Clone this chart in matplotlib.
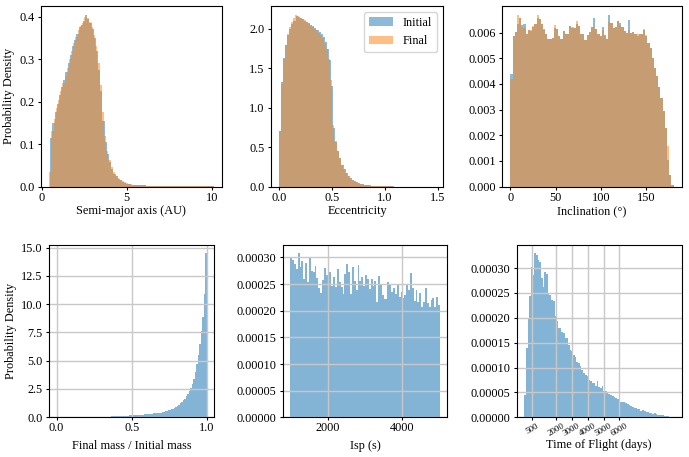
import numpy as np
import matplotlib
matplotlib.use('Agg')
import matplotlib.pyplot as plt

plt.rcParams['font.family'] = 'serif'
plt.rcParams['font.serif'] = ['Liberation Serif', 'DejaVu Serif']
plt.rcParams['font.size'] = 8.8
plt.rcParams['xtick.major.size'] = 2
plt.rcParams['ytick.major.size'] = 2
plt.rcParams['xtick.major.pad'] = 1.5
plt.rcParams['ytick.major.pad'] = 2.5

# Histogram heights (density per bin)
sma_range_initial = (0.5, 10.1)
sma_initial = [0.115, 0.15, 0.175, 0.195, 0.215, 0.235, 0.25, 0.27, 0.29, 0.31,
               0.33, 0.345, 0.36, 0.375, 0.38, 0.39, 0.405, 0.395, 0.385, 0.37,
               0.35, 0.32, 0.275, 0.225, 0.155, 0.105, 0.078, 0.058, 0.042, 0.031,
               0.024, 0.019, 0.015, 0.012, 0.009, 0.007, 0.006, 0.005, 0.005, 0.004,
               0.004, 0.003, 0.003, 0.003, 0.002, 0.002, 0.002, 0.001, 0.001, 0.001,
               0.001, 0.001, 0.001, 0.001, 0.001, 0.001, 0.001, 0.001, 0.001, 0.001,
               0.001, 0.001, 0.001, 0.001, 0.001, 0.001, 0.001, 0.001, 0.001, 0.001,
               0.001, 0.001, 0.001, 0.001, 0.001]
sma_range_final = (0.44, 10.1)
sma_final = [0.035, 0.13, 0.16, 0.185, 0.205, 0.225, 0.243, 0.26, 0.28, 0.30,
             0.32, 0.338, 0.352, 0.368, 0.378, 0.386, 0.40, 0.398, 0.388, 0.375,
             0.357, 0.33, 0.29, 0.24, 0.175, 0.12, 0.085, 0.063, 0.046, 0.034,
             0.026, 0.02, 0.016, 0.013, 0.01, 0.008, 0.007, 0.006, 0.005, 0.004,
             0.004, 0.003, 0.003, 0.003, 0.002, 0.002, 0.002, 0.001, 0.001, 0.001,
             0.001, 0.001, 0.001, 0.001, 0.001, 0.001, 0.001, 0.001, 0.001, 0.001,
             0.001, 0.001, 0.001, 0.001, 0.001, 0.001, 0.001, 0.001, 0.001, 0.001,
             0.001, 0.001, 0.001, 0.001, 0.001]

ecc_range_initial = (0.0, 1.48)
ecc_initial = [0.71, 1.32, 1.63, 1.80, 1.92, 2.00, 2.06, 2.10, 2.16, 2.15,
               2.14, 2.13, 2.10, 2.09, 2.07, 2.05, 2.03, 2.01, 1.98, 1.96,
               1.93, 1.89, 1.83, 1.75, 1.60, 1.27, 0.74, 0.57, 0.45, 0.36,
               0.28, 0.22, 0.17, 0.13, 0.11, 0.09, 0.07, 0.055, 0.047, 0.04,
               0.033, 0.027, 0.022, 0.018, 0.015, 0.012, 0.01, 0.008, 0.007, 0.006,
               0.005, 0.004, 0.004, 0.003, 0.003, 0.002, 0.002, 0.002, 0.002, 0.001,
               0.001, 0.001, 0.001, 0.001, 0.001, 0.001, 0.001, 0.001, 0.001, 0.001,
               0.001, 0.001, 0.001, 0.001, 0.001]
ecc_range_final = (0.0, 1.46)
ecc_final = [0.70, 1.30, 1.62, 1.79, 1.93, 2.02, 2.08, 2.14, 2.18, 2.16,
             2.14, 2.12, 2.11, 2.08, 2.06, 2.04, 2.02, 2.00, 1.98, 1.95,
             1.92, 1.88, 1.82, 1.74, 1.62, 1.35, 0.78, 0.58, 0.45, 0.36,
             0.28, 0.22, 0.17, 0.13, 0.11, 0.09, 0.07, 0.055, 0.047, 0.04,
             0.033, 0.027, 0.022, 0.018, 0.015, 0.012, 0.01, 0.008, 0.007, 0.006,
             0.005, 0.004, 0.004, 0.003, 0.003, 0.002, 0.002, 0.002, 0.002, 0.001,
             0.001, 0.001, 0.001, 0.001, 0.001, 0.001, 0.001, 0.001, 0.001, 0.001,
             0.001, 0.001, 0.001, 0.001, 0.001]

inc_range = (0.0, 180.0)
inc_initial = [4.37, 5.85, 6.04, 6.32, 6.56, 6.30, 6.35, 5.93, 6.09, 6.06,
               6.22, 6.35, 6.55, 6.52, 6.32, 6.13, 5.96, 5.74, 5.74, 5.78,
               6.19, 6.13, 5.87, 5.74, 6.06, 5.93, 5.96, 6.26, 6.19, 6.17,
               6.35, 6.26, 5.96, 5.93, 5.70, 5.90, 6.04, 6.20, 6.58, 6.13,
               5.96, 5.87, 6.20, 5.90, 5.74, 6.70, 6.39, 6.17, 6.22, 6.45,
               6.39, 6.22, 6.06, 6.00, 6.50, 6.00, 6.04, 5.96, 5.87, 5.96,
               5.93, 6.09, 5.87, 5.60, 5.41, 5.02, 4.63, 4.30, 3.90, 3.46,
               2.93, 2.30, 1.05, 0.46, 0.05]
inc_final = [4.20, 5.85, 6.04, 6.70, 6.56, 6.20, 6.19, 5.93, 6.09, 6.10,
             6.25, 6.35, 6.70, 6.52, 6.32, 6.10, 5.96, 5.74, 5.76, 5.78,
             6.28, 6.13, 5.87, 5.74, 6.06, 5.93, 5.96, 6.26, 6.22, 6.17,
             6.45, 6.26, 5.96, 5.93, 5.70, 5.90, 6.04, 6.20, 6.20, 6.13,
             5.96, 5.87, 6.10, 5.90, 5.74, 6.40, 6.39, 6.17, 6.22, 6.45,
             6.30, 6.22, 6.06, 6.00, 6.10, 6.00, 6.04, 5.96, 5.95, 5.96,
             5.93, 6.12, 5.92, 5.60, 5.41, 5.02, 4.63, 4.30, 3.90, 3.46,
             2.95, 2.30, 1.60, 0.46, 0.05]

mass_range = (0.0, 1.0)
mass_ratio = [0.004, 0.0, 0.0, 0.0, 0.0, 0.0, 0.0, 0.0, 0.0, 0.0,
              0.0, 0.0, 0.0, 0.0, 0.0, 0.0, 0.0, 0.0, 0.0, 0.0,
              0.0, 0.0, 0.0, 0.0, 0.0, 0.0, 0.0, 0.0, 0.0, 0.0,
              0.0, 0.0, 0.0, 0.05, 0.055, 0.06, 0.07, 0.075, 0.08, 0.09,
              0.10, 0.105, 0.11, 0.12, 0.125, 0.13, 0.14, 0.15, 0.16, 0.17,
              0.18, 0.185, 0.19, 0.20, 0.21, 0.22, 0.23, 0.24, 0.25, 0.265,
              0.28, 0.29, 0.31, 0.32, 0.34, 0.35, 0.37, 0.38, 0.40, 0.42,
              0.45, 0.48, 0.52, 0.56, 0.60, 0.65, 0.70, 0.76, 0.82, 0.90,
              1.00, 1.10, 1.22, 1.35, 1.50, 1.65, 1.85, 2.05, 2.30, 2.60,
              2.95, 3.40, 4.00, 4.70, 5.50, 6.45, 7.60, 8.90, 10.90, 14.50]

isp_range = (1000, 5000)
isp = [30.0, 29.5, 28.7, 27.9, 30.8, 28.2, 29.3, 25.9, 28.9, 25.4,
       30.0, 27.5, 27.3, 28.4, 26.1, 24.2, 23.3, 25.7, 28.0, 26.8,
       27.2, 27.2, 24.6, 26.3, 24.4, 27.8, 25.4, 24.4, 23.1, 26.9,
       28.7, 27.2, 23.1, 28.2, 25.5, 23.9, 28.5, 25.5, 26.3, 24.7,
       26.7, 26.0, 24.1, 26.0, 24.7, 25.5, 21.6, 26.6, 24.8, 22.9,
       22.2, 22.2, 25.4, 24.8, 23.6, 24.2, 23.2, 24.8, 22.6, 23.6,
       22.3, 22.9, 24.8, 23.8, 27.0, 24.3, 21.8, 23.8, 21.6, 23.4,
       20.7, 21.6, 24.2, 21.4, 20.7, 22.0, 22.3, 20.7, 22.6, 21.1]  # x 1e-5

tof_range = (0, 9450)
tof = [4.5, 13.9, 19.8, 24.4, 30.3, 28.6, 33.0, 32.7, 31.7, 31.3,
       28.0, 26.3, 29.2, 28.8, 24.75, 24.6, 23.6, 23.3, 20.3, 19.4,
       18.0, 17.9, 17.2, 16.9, 15.9, 16.0, 14.55, 13.5, 13.3, 12.5,
       12.2, 11.1, 10.9, 10.4, 9.5, 8.85, 8.5, 8.4, 7.5, 7.3,
       6.8, 6.8, 6.2, 7.2, 6.0, 5.8, 6.2, 5.3, 5.3, 4.8,
       4.6, 4.5, 4.35, 4.15, 3.8, 3.7, 3.5, 3.15, 3.15, 3.0,
       2.8, 2.6, 2.5, 2.3, 2.0, 1.8, 1.8, 1.7, 1.6, 1.3,
       1.5, 1.3, 1.1, 1.0, 0.9, 0.8, 0.7, 0.8, 0.65, 0.5,
       0.45, 0.45, 0.4, 0.33, 0.26, 0.2, 0.12, 0.12, 0.1]  # x 1e-5
tof_ticks = [500, 2000, 3000, 4000, 5000, 6000]


def draw_hist(ax, rng, heights, scale=1.0, **kw):
    edges = np.linspace(rng[0], rng[1], len(heights) + 1)
    ax.hist(edges[:-1], bins=edges, weights=np.array(heights) * scale, **kw)


fig = plt.figure(figsize=(6.89, 4.57), dpi=100)

# top row: orbital elements, initial vs final
ax1 = fig.add_axes([0.0595, 0.5915, 0.2623, 0.3954])
draw_hist(ax1, sma_range_initial, sma_initial, color='C0', alpha=0.5)
draw_hist(ax1, sma_range_final, sma_final, color='C1', alpha=0.5)
ax1.set_xticks([0, 5, 10])
ax1.set_yticks(np.arange(0, 0.41, 0.1))
ax1.set_xlabel('Semi-major axis (AU)', labelpad=1)
ax1.set_ylabel('Probability Density', labelpad=3)

ax2 = fig.add_axes([0.3933, 0.5915, 0.2501, 0.3954])
draw_hist(ax2, ecc_range_initial, ecc_initial, color='C0', alpha=0.5, label='Initial')
draw_hist(ax2, ecc_range_final, ecc_final, color='C1', alpha=0.5, label='Final')
ax2.set_xticks([0.0, 0.5, 1.0, 1.5])
ax2.set_yticks(np.arange(0, 2.1, 0.5))
ax2.set_xlabel('Eccentricity', labelpad=1)
ax2.legend(loc='upper right')

ax3 = fig.add_axes([0.729, 0.5915, 0.2604, 0.3954])
draw_hist(ax3, inc_range, inc_initial, scale=1e-3, color='C0', alpha=0.5)
draw_hist(ax3, inc_range, inc_final, scale=1e-3, color='C1', alpha=0.5)
ax3.set_xticks([0, 50, 100, 150])
ax3.set_yticks(np.arange(0, 0.0061, 0.001))
ax3.set_xlabel('Inclination (°)', labelpad=1)

# bottom row: trajectory quantities
ax4 = fig.add_axes([0.0711, 0.0869, 0.2399, 0.377])
draw_hist(ax4, mass_range, mass_ratio, color='C0', alpha=0.55)
ax4.set_xticks([0.0, 0.5, 1.0])
ax4.set_yticks(np.arange(0, 15.1, 2.5))
ax4.set_xlabel('Final mass / Initial mass', labelpad=4)
ax4.set_ylabel('Probability Density', labelpad=3)

ax5 = fig.add_axes([0.4103, 0.0869, 0.239, 0.377])
draw_hist(ax5, isp_range, isp, scale=1e-5, color='C0', alpha=0.55)
ax5.set_xticks([2000, 4000])
ax5.set_yticks(np.arange(0, 0.000301, 0.00005))
ax5.set_xlabel('Isp (s)', labelpad=4)

ax6 = fig.add_axes([0.7499, 0.0869, 0.2395, 0.377])
draw_hist(ax6, tof_range, tof, scale=1e-5, color='C0', alpha=0.55)
ax6.set_xticks(tof_ticks)
ax6.set_yticks(np.arange(0, 0.000301, 0.00005))
ax6.tick_params(axis='x', labelsize=6.5, labelrotation=30)
ax6.set_xlabel('Time of Flight (days)', labelpad=1)

for ax in (ax4, ax5, ax6):
    ax.grid(True, color='#c8c8c8', linewidth=1.0)

fig.savefig('out.png', dpi=100)
